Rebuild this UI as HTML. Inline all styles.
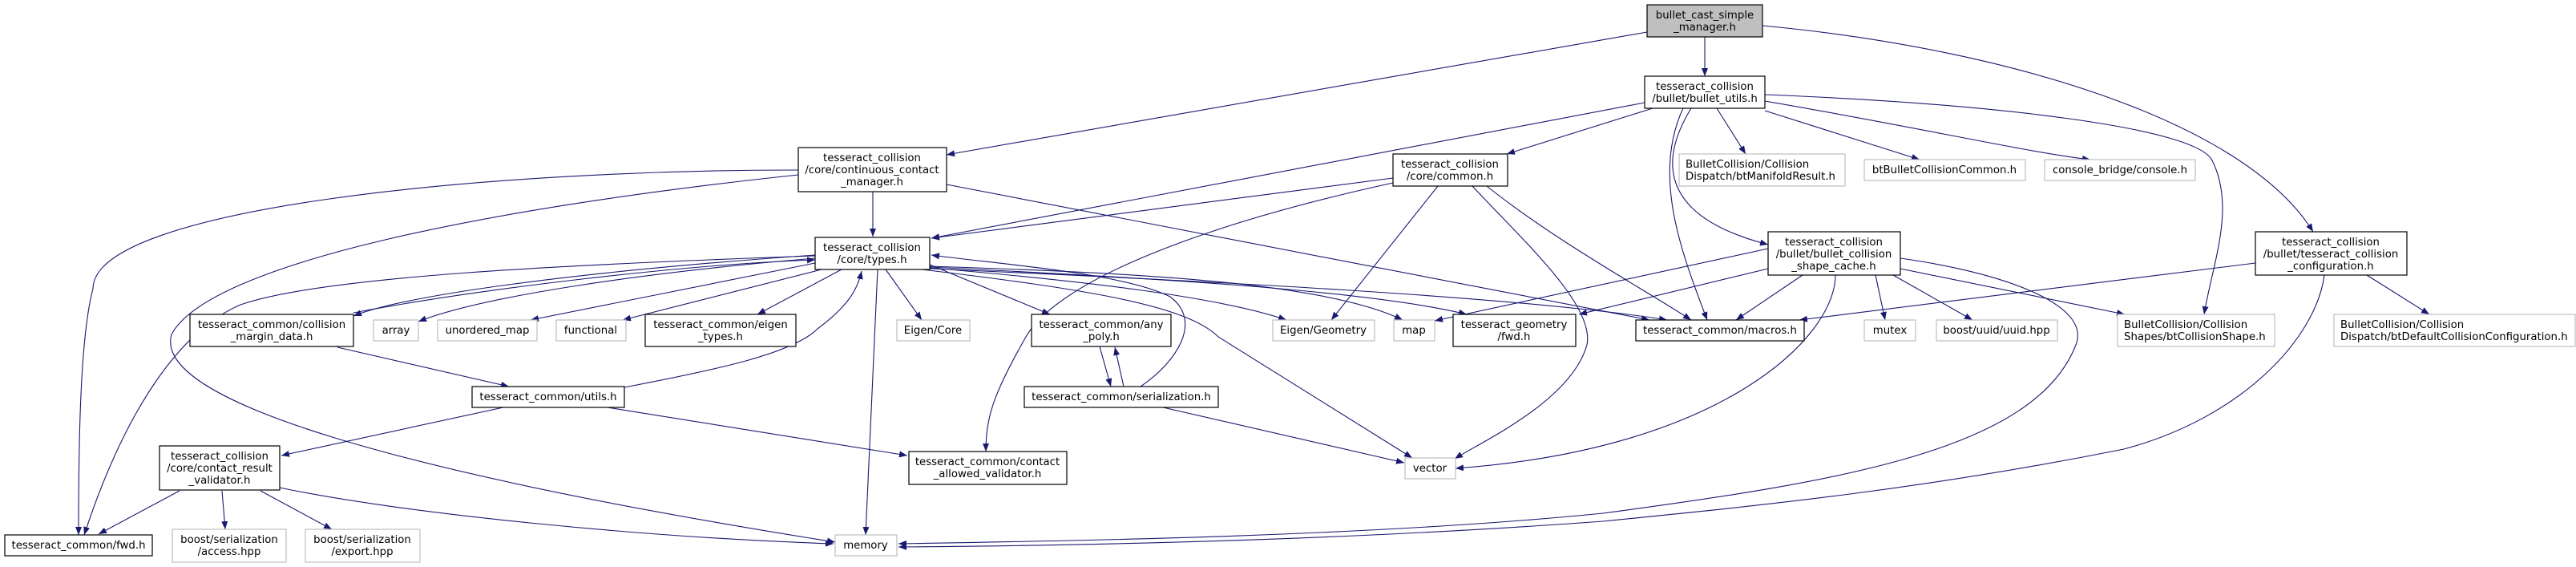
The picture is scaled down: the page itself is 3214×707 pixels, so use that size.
<!DOCTYPE html>
<html><head><meta charset="utf-8"><style>
html,body{margin:0;padding:0;background:#fff;}
svg{display:block;}
text{font-family:"DejaVu Sans","Liberation Sans",sans-serif;font-size:13.3px;fill:#000;}
.e{fill:none;stroke:#191970;stroke-width:1.1;marker-end:url(#a);}
.b{fill:#fff;stroke:#000;stroke-width:1.2;}
.g{fill:#fff;stroke:#bfbfbf;stroke-width:1.2;}
</style></head><body>
<svg width="3214" height="707" viewBox="0 0 3214 707" xmlns="http://www.w3.org/2000/svg">
<defs><marker id="a" markerUnits="userSpaceOnUse" markerWidth="11" markerHeight="8" refX="10" refY="4" orient="auto"><path d="M0,0 L10,4 L0,8 z" fill="#191970"/></marker></defs>
<!-- edges -->
<path class="e" d="M2055,40 L1181,193"/>
<path class="e" d="M2127,46 L2127,95"/>
<path class="e" d="M2199,32 C2500,60 2800,150 2886,289"/>
<path class="e" d="M1089,239 L1089,295"/>
<path class="e" d="M996,212 C600,212 116,260 116,360 C100,420 98,550 98,667"/>
<path class="e" d="M996,218 C600,260 260,330 214,417 C190,500 500,590 1042,676"/>
<path class="e" d="M1181,230 L2058,399"/>
<path class="e" d="M2052,128 L1162,297"/>
<path class="e" d="M2062,135 L1880,192"/>
<path class="e" d="M2142,135 L2178,192"/>
<path class="e" d="M2202,138 L2395,199"/>
<path class="e" d="M2202,126 C2400,160 2530,190 2608,199"/>
<path class="e" d="M2110,135 C2070,200 2070,270 2206,305"/>
<path class="e" d="M2100,135 C2060,220 2100,320 2130,399"/>
<path class="e" d="M2202,118 C2500,130 2740,160 2760,200 C2790,260 2760,330 2750,392"/>
<path class="e" d="M1738,222 L1162,297"/>
<path class="e" d="M1738,228 C1500,280 1320,350 1280,420 C1240,490 1230,520 1230,563"/>
<path class="e" d="M1794,232 L1661,399"/>
<path class="e" d="M1837,232 C1900,300 1990,380 1980,430 C1960,500 1850,550 1815,572"/>
<path class="e" d="M1855,232 C1940,300 2050,360 2110,399"/>
<path class="e" d="M2290,343 C2290,420 2150,560 1816,584"/>
<path class="e" d="M2371,322 C2500,340 2610,380 2590,430 C2540,560 2300,600 2000,640 C1700,670 1300,675 1121,678"/>
<path class="e" d="M2900,343 C2890,420 2800,520 2650,560 C2400,610 2200,630 2000,650 C1700,672 1400,680 1121,682"/>
<path class="e" d="M2814,328 L2245,399"/>
<path class="e" d="M2953,343 L3031,392"/>
<path class="e" d="M2206,310 L1790,400"/>
<path class="e" d="M2206,335 L1970,392"/>
<path class="e" d="M2249,343 L2166,399"/>
<path class="e" d="M2340,343 L2352,399"/>
<path class="e" d="M2362,343 L2461,399"/>
<path class="e" d="M2371,335 L2651,392"/>
<path class="e" d="M1017,318 C700,340 500,370 441,394"/>
<path class="e" d="M441,390 C600,360 850,330 1017,324"/>
<path class="e" d="M1017,319 C700,330 400,345 300,380 C230,410 160,500 105,667"/>
<path class="e" d="M1017,322 C800,340 600,370 522,401"/>
<path class="e" d="M1017,328 L662,399"/>
<path class="e" d="M1025,336 L777,399"/>
<path class="e" d="M1050,336 L945,392"/>
<path class="e" d="M1105,336 L1150,399"/>
<path class="e" d="M1160,330 L1310,392"/>
<path class="e" d="M1160,334 C1350,350 1520,370 1605,399"/>
<path class="e" d="M1160,332 C1400,340 1650,350 1750,399"/>
<path class="e" d="M1160,333 C1400,345 1700,360 1830,392"/>
<path class="e" d="M1160,335 C1500,350 1900,370 2080,399"/>
<path class="e" d="M1150,336 C1350,360 1480,380 1520,420 L1762,571"/>
<path class="e" d="M1095,336 L1080,667"/>
<path class="e" d="M779,483 C900,460 990,440 1020,410 C1060,380 1070,360 1075,338"/>
<path class="e" d="M421,433 L635,482"/>
<path class="e" d="M628,508 L351,568"/>
<path class="e" d="M758,508 L1132,568"/>
<path class="e" d="M224,612 L123,666"/>
<path class="e" d="M277,612 L281,660"/>
<path class="e" d="M325,612 L414,660"/>
<path class="e" d="M349,608 C500,640 800,670 1040,678"/>
<path class="e" d="M1372,432 L1386,482"/>
<path class="e" d="M1402,482 L1391,433"/>
<path class="e" d="M1423,482 C1470,450 1500,400 1460,370 C1400,340 1250,330 1162,318"/>
<path class="e" d="M1451,508 L1752,577"/>
<!-- nodes -->
<rect x="2055" y="6" width="144" height="40" fill="#bfbfbf" stroke="#000" stroke-width="1.2"/>
<text x="2127" y="23" text-anchor="middle">bullet_cast_simple</text><text x="2127" y="38" text-anchor="middle">_manager.h</text>
<rect class="b" x="2052" y="95" width="150" height="40"/>
<text x="2127" y="112" text-anchor="middle">tesseract_collision</text><text x="2127" y="127" text-anchor="middle">/bullet/bullet_utils.h</text>
<rect class="b" x="996" y="184" width="185" height="55"/>
<text x="1088" y="201" text-anchor="middle">tesseract_collision</text><text x="1088" y="216" text-anchor="middle">/core/continuous_contact</text><text x="1088" y="231" text-anchor="middle">_manager.h</text>
<rect class="b" x="1738" y="192" width="143" height="40"/>
<text x="1809" y="209" text-anchor="middle">tesseract_collision</text><text x="1809" y="224" text-anchor="middle">/core/common.h</text>
<rect class="g" x="2095" y="192" width="207" height="40"/>
<text x="2103" y="209">BulletCollision/Collision</text><text x="2103" y="224">Dispatch/btManifoldResult.h</text>
<rect class="g" x="2326" y="199" width="201" height="26"/>
<text x="2426" y="216" text-anchor="middle">btBulletCollisionCommon.h</text>
<rect class="g" x="2551" y="199" width="188" height="26"/>
<text x="2645" y="216" text-anchor="middle">console_bridge/console.h</text>
<rect class="b" x="2206" y="289" width="165" height="54"/>
<text x="2288" y="306" text-anchor="middle">tesseract_collision</text><text x="2288" y="321" text-anchor="middle">/bullet/bullet_collision</text><text x="2288" y="336" text-anchor="middle">_shape_cache.h</text>
<rect class="b" x="2814" y="289" width="189" height="54"/>
<text x="2908" y="306" text-anchor="middle">tesseract_collision</text><text x="2908" y="321" text-anchor="middle">/bullet/tesseract_collision</text><text x="2908" y="336" text-anchor="middle">_configuration.h</text>
<rect class="b" x="1017" y="296" width="143" height="40"/>
<text x="1088" y="313" text-anchor="middle">tesseract_collision</text><text x="1088" y="328" text-anchor="middle">/core/types.h</text>
<rect class="b" x="237" y="392" width="204" height="40"/>
<text x="339" y="409" text-anchor="middle">tesseract_common/collision</text><text x="339" y="424" text-anchor="middle">_margin_data.h</text>
<rect class="g" x="466" y="399" width="56" height="26"/><text x="494" y="416" text-anchor="middle">array</text>
<rect class="g" x="546" y="399" width="124" height="26"/><text x="608" y="416" text-anchor="middle">unordered_map</text>
<rect class="g" x="694" y="399" width="87" height="26"/><text x="737" y="416" text-anchor="middle">functional</text>
<rect class="b" x="805" y="392" width="188" height="40"/>
<text x="899" y="409" text-anchor="middle">tesseract_common/eigen</text><text x="899" y="424" text-anchor="middle">_types.h</text>
<rect class="g" x="1119" y="399" width="91" height="26"/><text x="1164" y="416" text-anchor="middle">Eigen/Core</text>
<rect class="b" x="1287" y="392" width="174" height="40"/>
<text x="1374" y="409" text-anchor="middle">tesseract_common/any</text><text x="1374" y="424" text-anchor="middle">_poly.h</text>
<rect class="g" x="1588" y="399" width="127" height="26"/><text x="1651" y="416" text-anchor="middle">Eigen/Geometry</text>
<rect class="g" x="1739" y="399" width="51" height="26"/><text x="1764" y="416" text-anchor="middle">map</text>
<rect class="b" x="1813" y="392" width="153" height="40"/>
<text x="1889" y="409" text-anchor="middle">tesseract_geometry</text><text x="1889" y="424" text-anchor="middle">/fwd.h</text>
<rect class="b" x="2041" y="399" width="210" height="26"/><text x="2146" y="416" text-anchor="middle">tesseract_common/macros.h</text>
<rect class="g" x="2326" y="399" width="64" height="26"/><text x="2358" y="416" text-anchor="middle">mutex</text>
<rect class="g" x="2416" y="399" width="151" height="26"/><text x="2491" y="416" text-anchor="middle">boost/uuid/uuid.hpp</text>
<rect class="g" x="2642" y="392" width="196" height="40"/>
<text x="2650" y="409">BulletCollision/Collision</text><text x="2650" y="424">Shapes/btCollisionShape.h</text>
<rect class="g" x="2912" y="392" width="301" height="40"/>
<text x="2920" y="409">BulletCollision/Collision</text><text x="2920" y="424">Dispatch/btDefaultCollisionConfiguration.h</text>
<rect class="b" x="589" y="482" width="190" height="26"/><text x="684" y="499" text-anchor="middle">tesseract_common/utils.h</text>
<rect class="b" x="1278" y="482" width="242" height="26"/><text x="1399" y="499" text-anchor="middle">tesseract_common/serialization.h</text>
<rect class="b" x="199" y="556" width="150" height="55"/>
<text x="274" y="573" text-anchor="middle">tesseract_collision</text><text x="274" y="588" text-anchor="middle">/core/contact_result</text><text x="274" y="603" text-anchor="middle">_validator.h</text>
<rect class="b" x="1134" y="563" width="197" height="41"/>
<text x="1232" y="580" text-anchor="middle">tesseract_common/contact</text><text x="1232" y="595" text-anchor="middle">_allowed_validator.h</text>
<rect class="g" x="1753" y="571" width="63" height="26"/><text x="1784" y="588" text-anchor="middle">vector</text>
<rect class="b" x="6" y="667" width="184" height="26"/><text x="98" y="684" text-anchor="middle">tesseract_common/fwd.h</text>
<rect class="g" x="215" y="660" width="142" height="41"/>
<text x="286" y="677" text-anchor="middle">boost/serialization</text><text x="286" y="692" text-anchor="middle">/access.hpp</text>
<rect class="g" x="381" y="660" width="143" height="41"/>
<text x="452" y="677" text-anchor="middle">boost/serialization</text><text x="452" y="692" text-anchor="middle">/export.hpp</text>
<rect class="g" x="1042" y="667" width="77" height="26"/><text x="1080" y="684" text-anchor="middle">memory</text>
</svg>
</body></html>
